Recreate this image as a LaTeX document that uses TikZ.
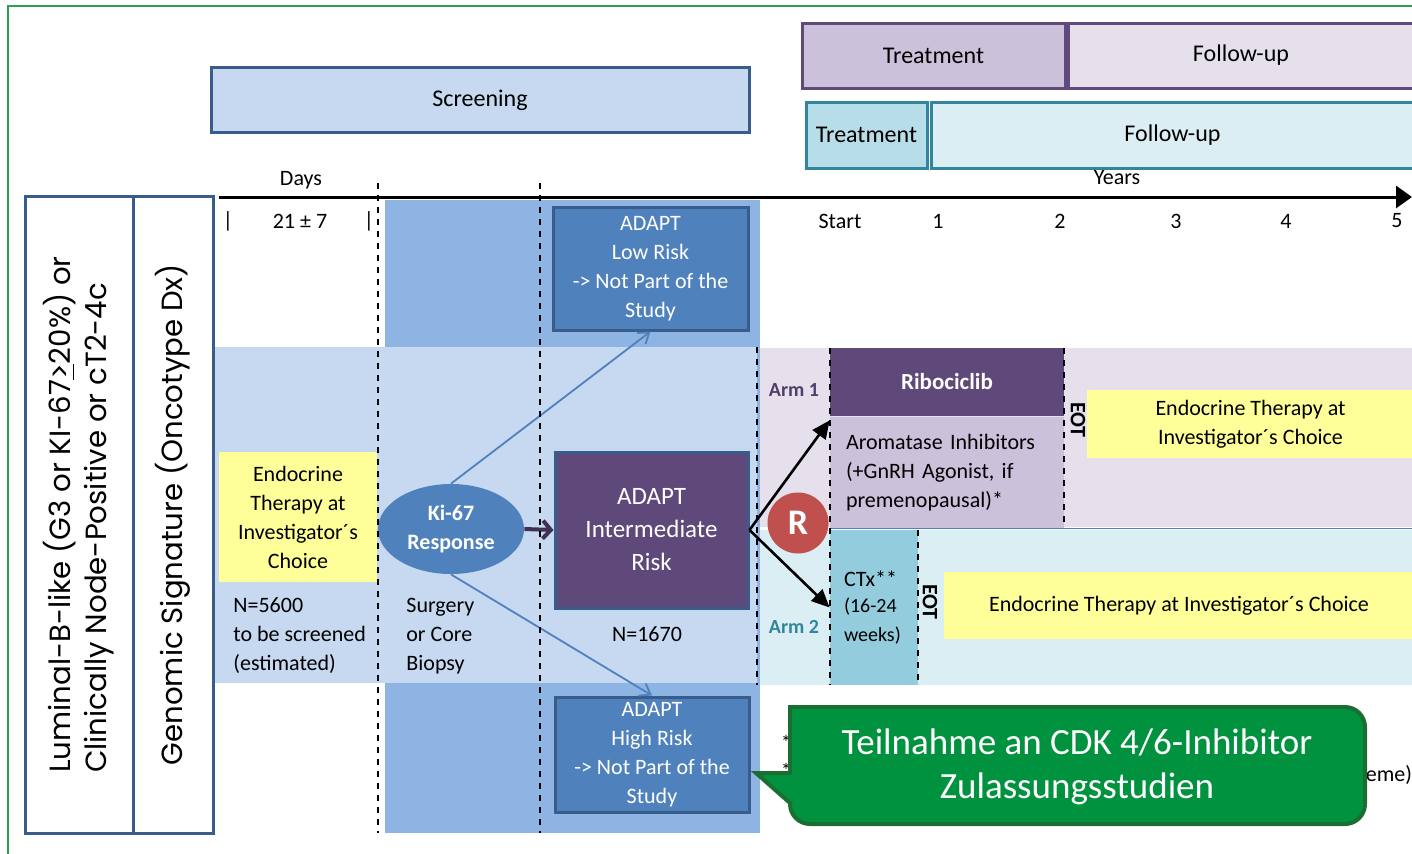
\documentclass[tikz,border=0pt]{standalone}
\usepackage{fontspec}
\setmainfont{Carlito}
\newfontfamily\gothic{Poppins}
\usetikzlibrary{positioning, shapes.geometric, arrows.meta}

\definecolor{frameG}{HTML}{2E9E4F}
\definecolor{scrBlue}{HTML}{C6D9F1}
\definecolor{midBlue}{HTML}{8DB4E2}
\definecolor{adaptBlue}{HTML}{4F81BD}
\definecolor{edgeBlue}{HTML}{385D8A}
\definecolor{purDark}{HTML}{5F497A}
\definecolor{purMid}{HTML}{CCC1DA}
\definecolor{purLight}{HTML}{E5E0EC}
\definecolor{purEdge}{HTML}{604A7B}
\definecolor{tealMid}{HTML}{B7DEE8}
\definecolor{tealCTx}{HTML}{93CDDD}
\definecolor{tealLight}{HTML}{DBEEF4}
\definecolor{tealEdge}{HTML}{31859C}
\definecolor{yel}{HTML}{FFFF99}
\definecolor{rRed}{HTML}{C0504D}
\definecolor{noteG}{HTML}{00923F}
\definecolor{noteEdge}{HTML}{1B6E31}
\definecolor{arrowPur}{HTML}{403152}

\newcommand{\fs}[2]{\fontsize{#1}{#2}\selectfont}

\begin{document}
\begin{tikzpicture}[
    x=0.5pt, y=-0.5pt,
    every node/.style={inner sep=0pt, font=\fs{11}{14.5}},
    phasebar/.style={draw, line width=1.5pt, font=\fs{12}{14}},
    adapt/.style={draw=edgeBlue, fill=adaptBlue, line width=1.5pt, text=white, align=center},
    yelbox/.style={fill=yel, align=center},
    lbl/.style={align=left, anchor=west},
    sidebox/.style={draw=edgeBlue, line width=1.5pt, rotate=90, minimum width=318.5pt, align=left, font=\gothic\fs{14.6}{18}},
    divider/.style={dashed, line width=0.9pt},
    eotlabel/.style={rotate=-90, font=\bfseries\fs{11}{13}},
    riskline/.style={adaptBlue, line width=0.9pt, -{Straight Barb[length=5pt, width=7pt]}},
    randarrow/.style={line width=1.3pt, -{Triangle[length=9pt, width=8pt]}}
]
\useasboundingbox (0,0) rectangle (1412,853);
\clip (0,0) rectangle (1412,853);

% frame
\draw[frameG, line width=1pt] (8,6) rectangle (1430,870);

% shaded bands
\fill[midBlue] (385,200) rectangle (760,833);
\fill[scrBlue] (215,347) rectangle (757,683);
\fill[purLight] (760,348) rectangle (1414,527);
\fill[tealLight] (760,530) rectangle (1414,685);
\draw[adaptBlue, line width=0.8pt] (830,528.5) -- (1414,528.5);

% phase bars
\node[phasebar, draw=edgeBlue, fill=scrBlue, minimum width=269pt, minimum height=32.5pt] (screen) at (480,100) {Screening};
\node[phasebar, draw=purEdge, fill=purMid, minimum width=131.5pt, minimum height=32.5pt] (treatA) at (933.5,55.5) {Treatment};
\node[phasebar, draw=purEdge, fill=purLight, minimum width=173pt, minimum height=32.5pt] (followA) at (1241,55.5) {Follow-up};
\node[phasebar, draw=tealEdge, fill=tealMid, minimum width=60.5pt, minimum height=33pt] (treatB) at (866.5,135) {Treatment};
\node[phasebar, draw=tealEdge, fill=tealLight, minimum width=241.5pt, minimum height=33pt] (followB) at (1172.5,135) {Follow-up};

% time axis
\coordinate (axL) at (219,197);
\coordinate (axR) at (1412,197);
\draw[line width=1.5pt, -{Triangle[length=8pt, width=11pt]}] (axL) -- (axR);
\node (days) at (301,180) {Days};
\node (years) at (1117,178) {Years};
\node (tk0) at (228,221) {|};
\node (tk1) at (300,221) {21 ± 7};
\node (tk2) at (369,221) {|};
\foreach \lab/\xx in {Start/840, 1/938, 2/1060, 3/1176, 4/1286, 5/1397}
    \node (yr\lab) at (\xx,221) {\lab};

% inclusion criteria
\node[sidebox, minimum height=54pt] (incl) at (79,514.5) {Luminal-B-like (G3 or KI-67\underline{>}20\%) or\\Clinically Node-Positive or cT2-4c};
\node[sidebox, minimum height=40pt] (genom) at (173,514.5) {Genomic Signature (Oncotype Dx)};

% screening phase
\node[yelbox, minimum width=79pt, minimum height=65pt] (endoL) at (298,517) {Endocrine\\Therapy at\\Investigator´s\\Choice};
\node[lbl] (nScreen) at (233,636) {N=5600\\to be screened\\(estimated)};
\node[ellipse, fill=adaptBlue, minimum width=73pt, minimum height=45pt, text=white, align=center, font=\bfseries\fs{11}{14.5}] (ki67) at (451,529) {Ki-67\\Response};
\node[lbl] (biopsy) at (406,636) {Surgery\\or Core\\Biopsy};

% ADAPT risk groups
\node[adapt, minimum width=97.5pt, minimum height=61.5pt] (lowRisk) at (650.5,268.5) {ADAPT\\Low Risk\\-> Not Part of the\\Study};
\node[adapt, fill=purDark, minimum width=96.5pt, minimum height=78pt, font=\fs{12.5}{16.5}] (interRisk) at (651.5,530) {ADAPT\\Intermediate\\Risk};
\node (nInter) at (647,634) {N=1670};
\node[adapt, minimum width=97pt, minimum height=57.5pt] (highRisk) at (652,754.5) {ADAPT\\High Risk\\-> Not Part of the\\Study};

\draw[riskline] (ki67.north) -- (lowRisk.south);
\draw[riskline] (ki67.south) -- (highRisk.north);
\draw[arrowPur, line width=2pt, -{Straight Barb[length=4pt, width=9pt]}] (ki67.east) -- (interRisk.west);

% randomised arms
\node[fill=purDark, text=white, minimum width=117pt, minimum height=34pt, font=\bfseries\fs{11.5}{14}] (ribo) at (947,382) {Ribociclib};
\node[fill=purMid, below=0pt of ribo, minimum width=117pt, minimum height=55.5pt, text width=101pt, inner xsep=8pt, align=left] (aroma) {Aromatase Inhibitors\\(+GnRH Agonist, if\\premenopausal)*};
\node[fill=tealCTx, minimum width=44pt, minimum height=77.5pt, text width=30pt, inner xsep=7pt, align=left] (ctx) at (874,607.5) {CTx**\\\fs{10}{13}(16-24\\weeks)};
\node[font=\bfseries, text=purDark!85!black] (arm1) at (794,390) {Arm 1};
\node[font=\bfseries, text=tealEdge] (arm2) at (794,627) {Arm 2};
\node[circle, fill=rRed, minimum size=30.5pt, text=white, font=\bfseries\fs{18}{20}] (rand) at (798,523) {R};
\draw[randarrow] (interRisk.east) -- ([yshift=-2pt]aroma.north west);
\draw[randarrow] (interRisk.east) -- (ctx.west);

\node[eotlabel] (eot1) at (1078,420) {EOT};
\node[eotlabel] (eot2) at (930,602) {EOT};
\node[yelbox, minimum width=163.5pt, minimum height=34pt] (endo1) at (1250.5,424) {Endocrine Therapy at\\Investigator´s Choice};
\node[yelbox, minimum width=235pt, minimum height=33.5pt] (endo2) at (1179,605.5) {Endocrine Therapy at Investigator´s Choice};

% time separators
\foreach \xx in {378, 540}
    \draw[divider] (\xx,183) -- (\xx,833);
\draw[divider] (757,347) -- (757,685);
\draw[divider] (830,348) -- (830,685);
\draw[divider] (1064,348) -- (1064,527);
\draw[divider] (918,530) -- (918,685);

% footnotes (mostly hidden)
\node[font=\fs{10}{12}] (fn1) at (786,742) {*};
\node[font=\fs{10}{12}] (fn2) at (786,770) {*};
\node (fn3) at (1389,775) {eme)};

% callout
\coordinate (tip) at (756,773);
\filldraw[fill=noteG, draw=noteEdge, line width=2pt] (790,803) -- (tip) -- (790,773) -- (790,707) [rounded corners=10pt] -- (1365,707) -- (1365,824) -- (790,824) [sharp corners] -- cycle;
\node[text=white, align=center, font=\fs{18.5}{22}] (note) at (1077,767) {Teilnahme an CDK 4/6-Inhibitor\\Zulassungsstudien};

\end{tikzpicture}
\end{document}
